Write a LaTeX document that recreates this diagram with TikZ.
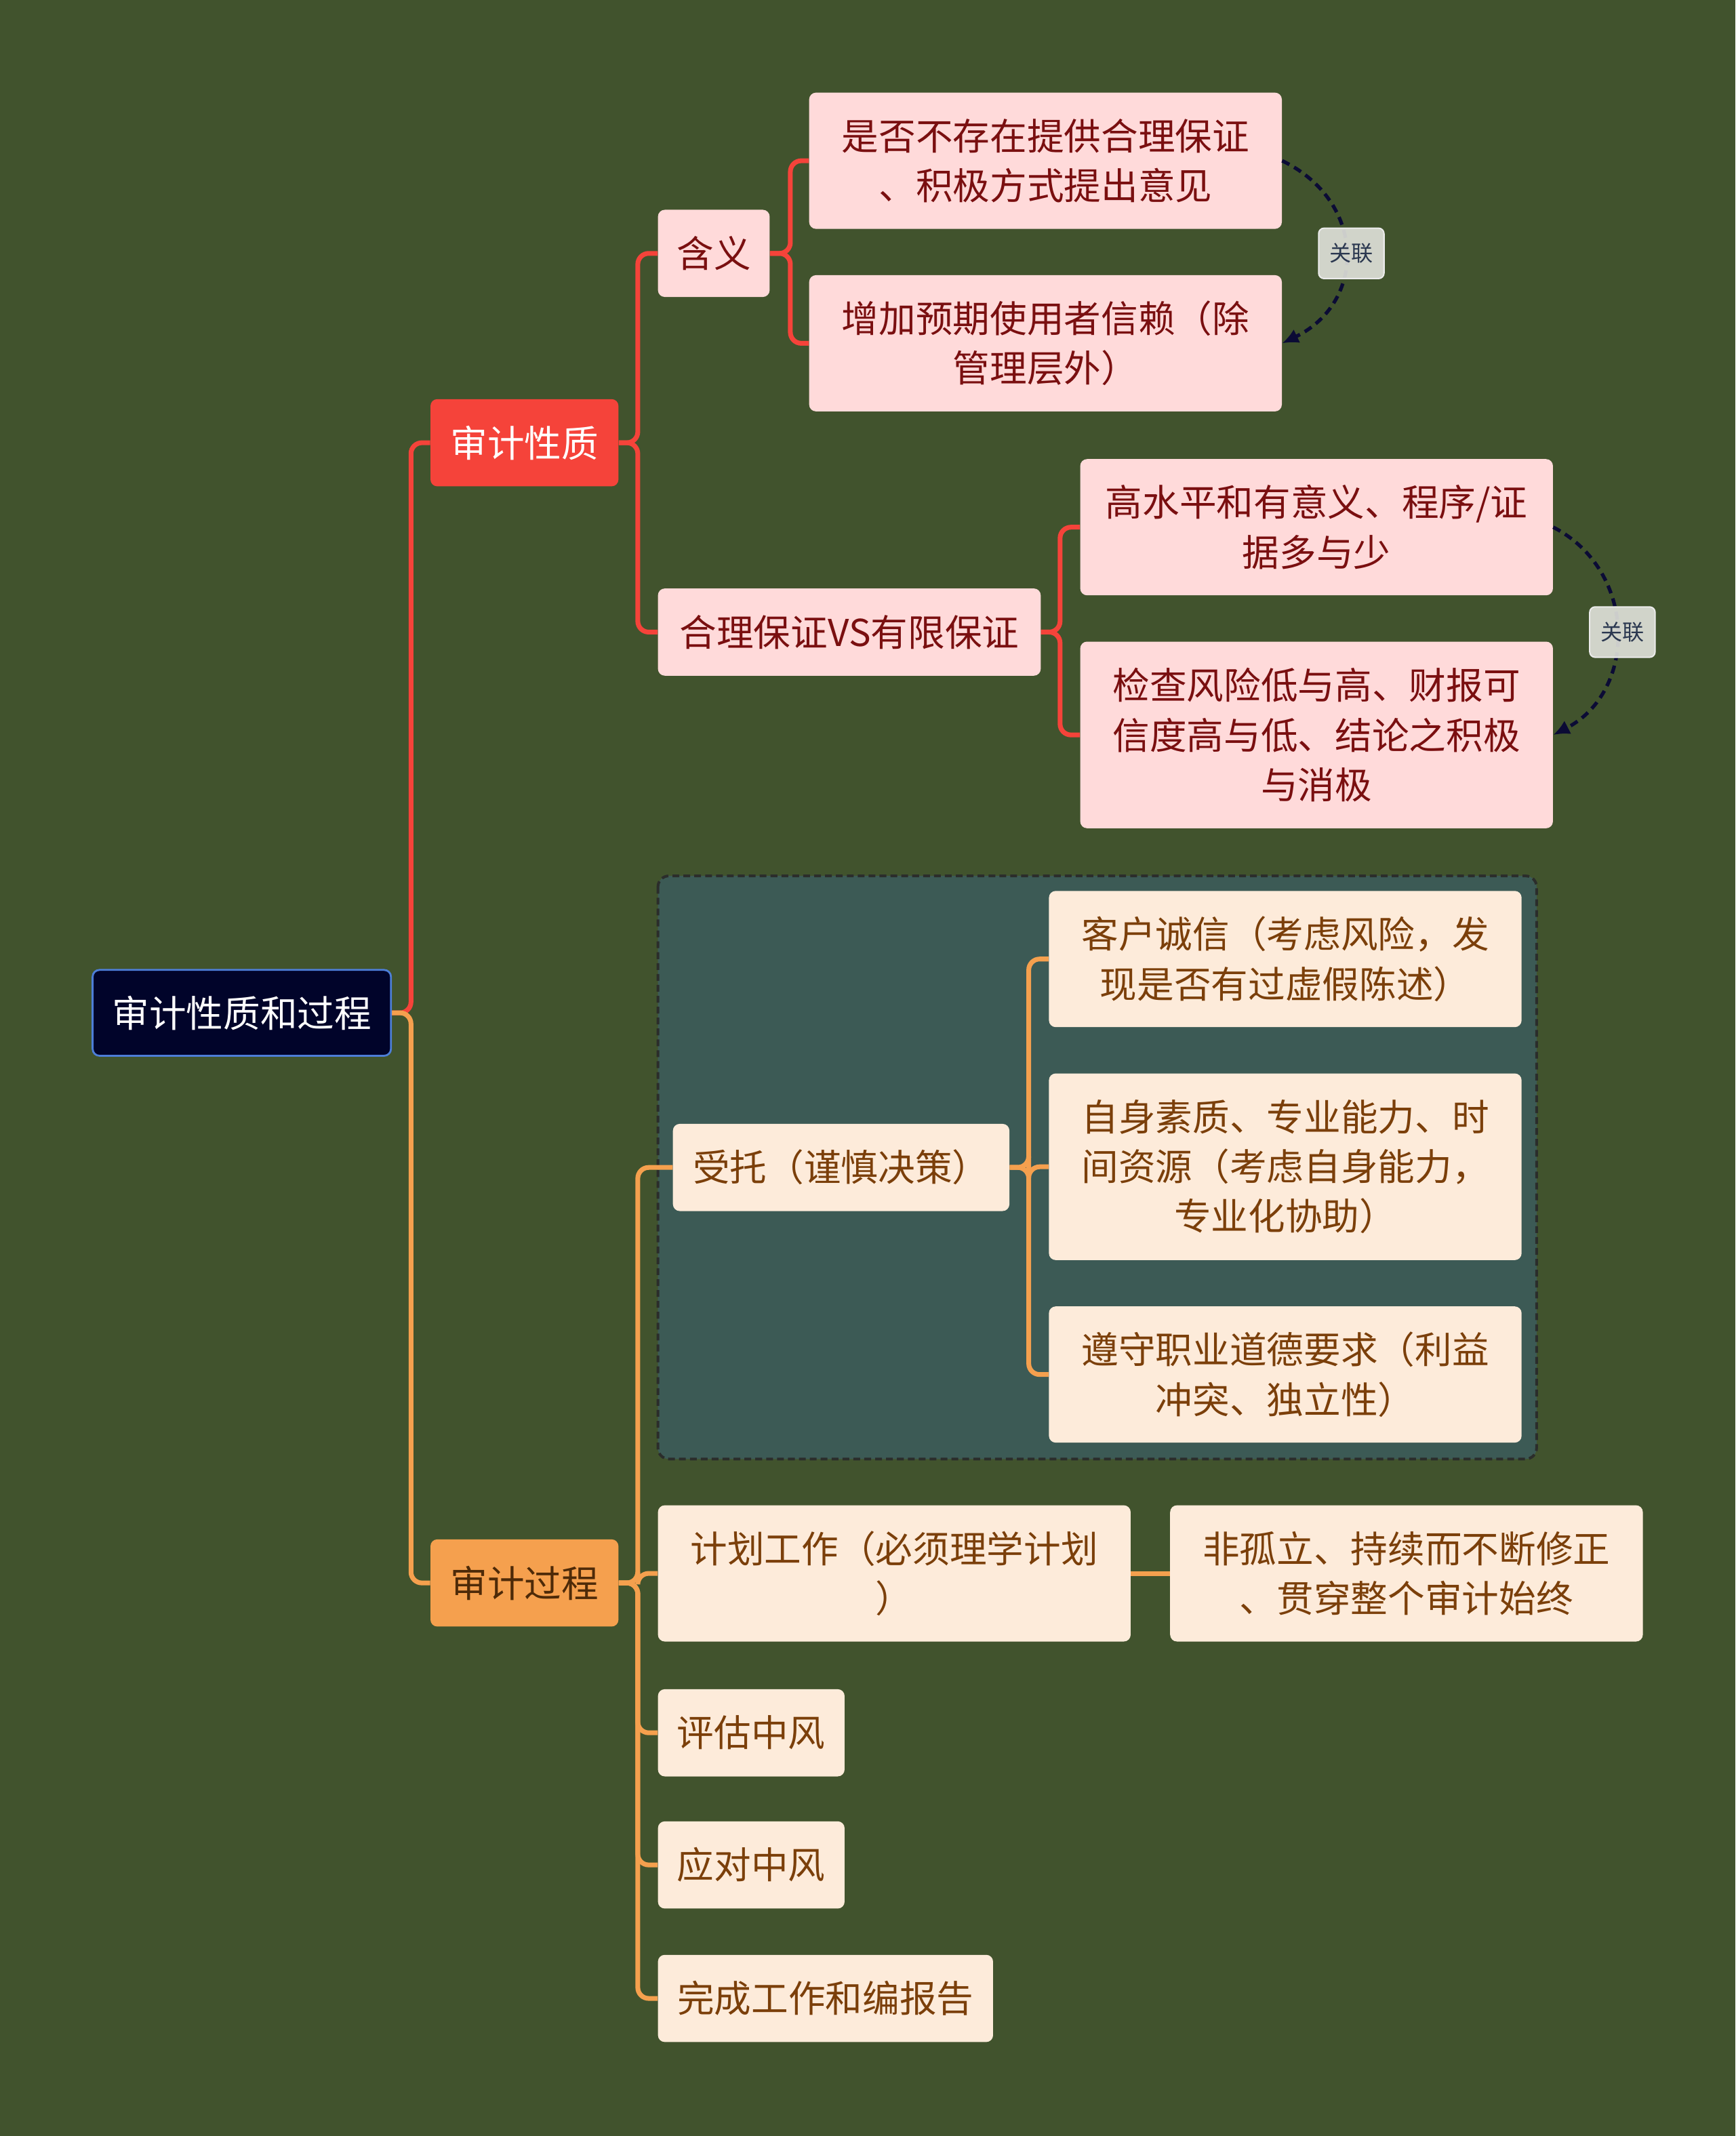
\documentclass[tikz,border=0pt]{standalone}
\usepackage{fontspec}
\setmainfont{Noto Sans CJK SC}
\usetikzlibrary{arrows.meta}
\pgfdeclarelayer{back}
\pgfdeclarelayer{mid}
\pgfsetlayers{back,mid,main}
\definecolor{bgc}{HTML}{41532D}
\definecolor{boxc}{HTML}{3C5A55}
\definecolor{boxline}{HTML}{2B2D2B}
\definecolor{rootfill}{HTML}{01042A}
\definecolor{rootline}{HTML}{4D7ED8}
\definecolor{redc}{HTML}{F5433A}
\definecolor{orc}{HTML}{F5A04E}
\definecolor{pinkc}{HTML}{FFDADA}
\definecolor{pinktext}{HTML}{7A0F10}
\definecolor{creamc}{HTML}{FDEBDA}
\definecolor{creamtext}{HTML}{7B3F0A}
\definecolor{ortext}{HTML}{4E2A08}
\definecolor{relc}{HTML}{0B0B35}
\definecolor{relfill}{HTML}{E1E3DC}
\definecolor{reltext}{HTML}{2B3850}
\begin{document}
\begin{tikzpicture}[x=1pt,y=-1pt,
  base/.style={rounded corners=5pt, inner sep=0pt, align=center,
    font=\fontsize{27.2}{36.5}\selectfont},
  bx/.style 2 args={minimum width=#1pt, minimum height=#2pt},
  rootbox/.style={base, fill=rootfill, draw=rootline, line width=1.4pt, text=white},
  redbox/.style={base, fill=redc, text=white},
  orbox/.style={base, fill=orc, text=ortext},
  pinkbox/.style={base, fill=pinkc, text=pinktext},
  creambox/.style={base, fill=creamc, text=creamtext},
  redl/.style={draw=redc, line width=3.5pt, rounded corners=8pt},
  orl/.style={draw=orc, line width=3.5pt, rounded corners=8pt},
  rel/.style={draw=relc, line width=2.6pt, dash pattern=on 6pt off 4pt,
    -{Latex[length=12pt,width=11pt]}},
  rellabel/.style={fill=relfill, fill opacity=0.9, text opacity=1, draw=white!92!black,
    line width=1pt, rounded corners=4pt, inner sep=0pt, minimum width=48pt,
    minimum height=37pt, text=reltext, font=\fontsize{16}{18}\selectfont}
]
\begin{pgfonlayer}{back}
\path[fill=bgc] (0,0) rectangle (1274,1568);
\path[fill=boxc, draw=boxline, line width=2pt, dash pattern=on 5pt off 3pt,
  rounded corners=8pt] (483,643) rectangle (1128,1071);
\end{pgfonlayer}
\useasboundingbox (0,0) rectangle (1274,1568);

% nodes
\node[rootbox, bx={219}{63}] (root) at (177.5,743.5) {审计性质和过程};
\node[redbox, bx={138}{64}] (xz) at (385,325) {审计性质};
\node[orbox, bx={138}{64}] (gc) at (385,1162) {审计过程};

\node[pinkbox, bx={82}{64}] (hy) at (524,186) {含义};
\node[pinkbox, bx={281}{64}] (hl) at (623.5,464) {合理保证VS有限保证};
\node[pinkbox, bx={347}{100}] (a1) at (767.5,118) {是否不存在提供合理保证\\、积极方式提出意见};
\node[pinkbox, bx={347}{100}] (a2) at (767.5,252) {增加预期使用者信赖（除\\管理层外）};
\node[pinkbox, bx={347}{100}] (b1) at (966.5,387) {高水平和有意义、程序/证\\据多与少};
\node[pinkbox, bx={347}{137}] (b2) at (966.5,539.5) {检查风险低与高、财报可\\信度高与低、结论之积极\\与消极};

\node[creambox, bx={247}{64}] (st) at (617.5,857) {受托（谨慎决策）};
\node[creambox, bx={347}{100}] (c1) at (943.5,704) {客户诚信（考虑风险，发\\现是否有过虚假陈述）};
\node[creambox, bx={347}{137}] (c2) at (943.5,856.5) {自身素质、专业能力、时\\间资源（考虑自身能力，\\专业化协助）};
\node[creambox, bx={347}{100}] (c3) at (943.5,1009) {遵守职业道德要求（利益\\冲突、独立性）};
\node[creambox, bx={347}{100}] (jh) at (656.5,1155) {计划工作（必须理学计划\\）};
\node[creambox, bx={347}{100}] (fg) at (1032.5,1155) {非孤立、持续而不断修正\\、贯穿整个审计始终};
\node[creambox, bx={137}{64}] (pg) at (551.5,1272) {评估中风};
\node[creambox, bx={137}{64}] (yd) at (551.5,1369) {应对中风};
\node[creambox, bx={246}{64}] (wc) at (606,1467) {完成工作和编报告};

% connectors
\begin{pgfonlayer}{mid}
\draw[redl] (root.east) -- ++(14,0) |- (xz.west);
\draw[orl] (root.east) -- ++(14,0) |- (gc.west);
\draw[redl] (xz.east) -- ++(14,0) |- (hy.west);
\draw[redl] (xz.east) -- ++(14,0) |- (hl.west);
\draw[redl] (hy.east) -- ++(15,0) |- (a1.west);
\draw[redl] (hy.east) -- ++(15,0) |- (a2.west);
\draw[redl] (hl.east) -- ++(14,0) |- (b1.west);
\draw[redl] (hl.east) -- ++(14,0) |- (b2.west);
\draw[orl] (gc.east) -- ++(14,0) |- (st.west);
\draw[orl] (gc.east) -- ++(14,0) |- (jh.west);
\draw[orl] (gc.east) -- ++(14,0) |- (pg.west);
\draw[orl] (gc.east) -- ++(14,0) |- (yd.west);
\draw[orl] (gc.east) -- ++(14,0) |- (wc.west);
\draw[orl] (st.east) -- ++(14,0) |- (c1.west);
\draw[orl] (st.east) -- ++(14,0) |- (c2.west);
\draw[orl] (st.east) -- ++(14,0) |- (c3.west);
\draw[orl] (jh.east) -- (fg.west);
\end{pgfonlayer}

% relations
\draw[rel] (a1.east) .. controls +(62,30) and +(62,-30) .. (a2.east);
\node[rellabel] (r1) at (992,186) {关联};
\draw[rel] (b1.east) .. controls +(62,32) and +(62,-32) .. (b2.east);
\node[rellabel] (r2) at (1191,464) {关联};
\end{tikzpicture}
\end{document}
